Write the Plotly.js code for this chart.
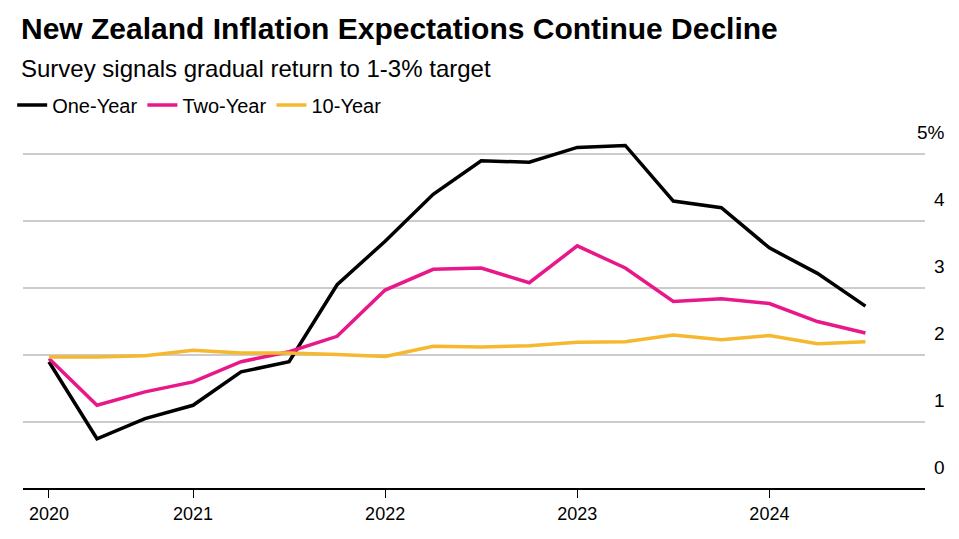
<!DOCTYPE html>
<html>
<head>
<meta charset="utf-8">
<script src="https://cdn.plot.ly/plotly-3.0.1.min.js"></script>
<style>body{margin:0;background:#fff}#chart{width:959px;height:539px}</style>
</head>
<body>
<div id="chart"></div>
<script>
// quarterly survey points, index 0 = first 2020 reading
const quarters = [0,1,2,3,4,5,6,7,8,9,10,11,12,13,14,15,16,17];
const oneYear = [1.9,0.75,1.05,1.25,1.75,1.9,3.05,3.7,4.4,4.9,4.88,5.1,5.13,4.3,4.2,3.6,3.22,2.73];
const twoYear = [1.95,1.25,1.45,1.6,1.9,2.05,2.28,2.97,3.28,3.3,3.08,3.63,3.3,2.8,2.84,2.77,2.5,2.33];
const tenYear = [1.97,1.97,1.99,2.07,2.03,2.03,2.01,1.98,2.13,2.12,2.14,2.19,2.2,2.3,2.23,2.29,2.17,2.2];
const yearTicks = [0,3,7,11,15];
const yearLabels = ['2020','2021','2022','2023','2024'];
const yTicks = [0,1,2,3,4,5];
const yLabels = ['0','1','2','3','4','5%'];

const font = 'Liberation Sans, Arial, sans-serif';
const line = (y, name, color) => ({
  x: quarters, y: y, name: name, type: 'scatter', mode: 'lines',
  line: {color: color, width: 3.5}
});

const annotations = yTicks.map((v, i) => ({
  xref: 'paper', yref: 'y', x: 1.024, y: v, text: yLabels[i],
  showarrow: false, xanchor: 'right', yanchor: 'bottom', yshift: 9,
  font: {family: font, size: 19, color: '#000'}
}));
annotations.push({
  xref: 'paper', yref: 'paper', x: -0.004, y: 1.263, xanchor: 'left', yanchor: 'middle',
  showarrow: false, text: '<b>New Zealand Inflation Expectations Continue Decline</b>',
  font: {family: font, size: 30, color: '#000'}
});
annotations.push({
  xref: 'paper', yref: 'paper', x: -0.004, y: 1.153, xanchor: 'left', yanchor: 'middle',
  showarrow: false, text: 'Survey signals gradual return to 1-3% target',
  font: {family: font, size: 24, color: '#000'}
});

const layout = {
  width: 959, height: 539,
  margin: {l: 20, r: 34, t: 124, b: 50},
  paper_bgcolor: '#fff', plot_bgcolor: '#fff',
  showlegend: true,
  legend: {orientation: 'h', x: -0.012, y: 1.052, xanchor: 'left', yanchor: 'middle',
    font: {family: font, size: 20, color: '#000'}, itemwidth: 30, traceorder: 'normal'},
  xaxis: {
    range: [-0.54, 18.24], tickvals: yearTicks, ticktext: yearLabels,
    showgrid: false, zeroline: false, ticks: 'outside', ticklen: 8, tickcolor: '#000',
    tickfont: {family: font, size: 18, color: '#000'}, showline: false
  },
  yaxis: {
    range: [0, 5.45], tickvals: [1,2,3,4,5], showticklabels: false,
    gridcolor: '#cccccc', gridwidth: 1.5, zeroline: true, zerolinecolor: '#000', zerolinewidth: 1.5
  },
  annotations: annotations
};

Plotly.newPlot('chart', [
  line(oneYear, 'One-Year', '#000000'),
  line(twoYear, 'Two-Year', '#e8178a'),
  line(tenYear, '10-Year', '#f5b82e')
], layout, {displayModeBar: false, staticPlot: true});
</script>
</body>
</html>
